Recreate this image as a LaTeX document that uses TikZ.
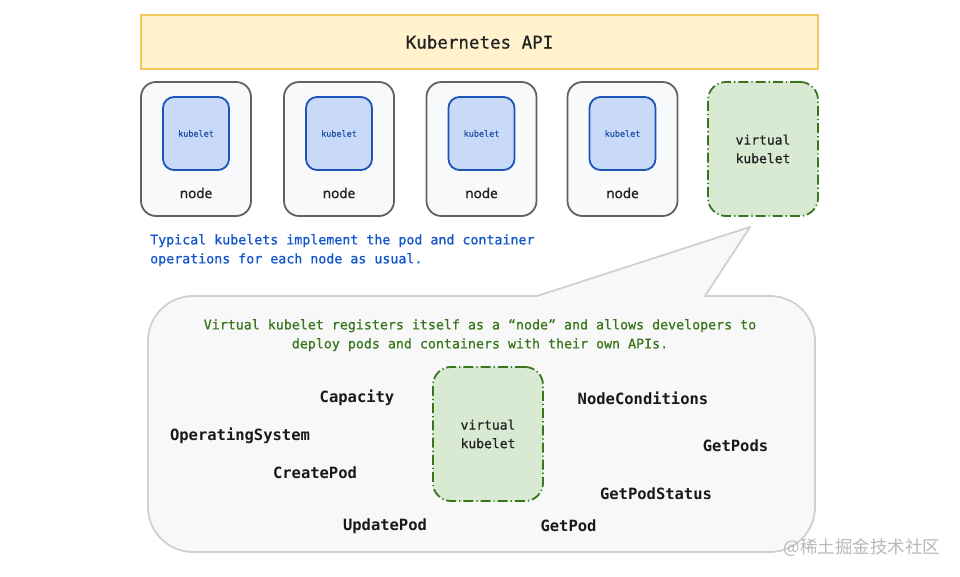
\documentclass[tikz,border=0pt]{standalone}
\usepackage{fontspec}
\newfontfamily\mono[FakeBold=0.7]{DejaVu Sans Mono}
\newfontfamily\monob{DejaVu Sans Mono Bold}
\newfontfamily\sansn[FakeBold=0.8]{Noto Sans}
\newfontfamily\cjk{Noto Sans CJK SC}
\definecolor{apifill}{HTML}{FFF2CC}
\definecolor{apidraw}{HTML}{F1C95A}
\definecolor{nodefill}{HTML}{F8F9FA}
\definecolor{nodedraw}{HTML}{616161}
\definecolor{kubfill}{HTML}{C9DAF8}
\definecolor{kubdraw}{HTML}{1C54B8}
\definecolor{kubtext}{HTML}{1C4FA8}
\definecolor{vfill}{HTML}{D9EAD3}
\definecolor{vdraw}{HTML}{38761D}
\definecolor{bluetext}{HTML}{1155CC}
\definecolor{greentext}{HTML}{38761D}
\definecolor{bubfill}{HTML}{F8F8F8}
\definecolor{bubdraw}{HTML}{D0D0D0}
\definecolor{darktext}{HTML}{222222}
\tikzset{
  apibox/.style={draw=apidraw, fill=apifill, line width=2pt, minimum width=677pt, minimum height=54pt, inner sep=0pt},
  nodebox/.style={draw=nodedraw, fill=nodefill, line width=1.8pt, rounded corners=15pt, minimum width=110pt, minimum height=134pt, inner sep=0pt},
  kubbox/.style={draw=kubdraw, fill=kubfill, line width=1.8pt, rounded corners=11pt, minimum width=66pt, minimum height=73pt, inner sep=0pt, text=kubtext, font=\mono\fontsize{8.5}{10}\selectfont},
  vbox/.style={draw=vdraw, fill=vfill, line width=1.8pt, rounded corners=18pt, minimum width=110pt, minimum height=134pt, inner sep=0pt, dash pattern=on 10pt off 3pt on 1.2pt off 3pt, text=darktext, align=center, font=\mono\fontsize{13}{18.5}\selectfont},
  nodelabel/.style={text=darktext, font=\sansn\fontsize{13.5}{16}\selectfont, inner sep=0pt},
  apilabel/.style={text=black!90, font=\monob\fontsize{15.5}{18}\selectfont, inner sep=0pt},
  note/.style={font=\mono\fontsize{13.3}{19}\selectfont, inner sep=0pt},
  bubble/.style={draw=bubdraw, fill=bubfill, line width=1.8pt, line join=round}
}
\begin{document}
\begin{tikzpicture}[x=1pt,y=1pt]
\useasboundingbox (0,0) rectangle (960,-577);
\fill[white] (0,0) rectangle (960,-577);
% Kubernetes API
\node[apibox] (api) at (479.5,-42) {};
\node[text=darktext, font=\mono\fontsize{17.5}{20}\selectfont] (apitext) at (api.center) {Kubernetes API};
% nodes
\foreach \i/\x in {1/196,2/339,3/481.5,4/622.5}{
  \node[nodebox] (n\i) at (\x,-149) {};
  \node[kubbox] (k\i) at (\x,-133.5) {kubelet};
  \node[nodelabel] (nl\i) at (\x,-193) {node};
}
\node[vbox] (vtop) at (763,-149) {virtual\\kubelet};
% bubble
\coordinate (tailL) at (537,-296);
\coordinate (tailTip) at (750,-227);
\coordinate (tailR) at (705,-296);
\draw[bubble] (tailL) -- (tailTip) -- (tailR) -- (770,-296)
  arc[start angle=90,end angle=0,radius=45pt] -- (815,-507)
  arc[start angle=0,end angle=-90,radius=45pt] -- (193,-552)
  arc[start angle=270,end angle=180,radius=45pt] -- (148,-341)
  arc[start angle=180,end angle=90,radius=45pt] -- cycle;
% notes
\node[note, text=bluetext, anchor=north west, align=left] (typical) at (150,-234) {Typical kubelets implement the pod and container\\operations for each node as usual.};
\node[note, text=greentext, anchor=north, align=center] (virtnote) at (480,-319) {Virtual kubelet registers itself as a “node” and allows developers to\\deploy pods and containers with their own APIs.};
% inner virtual kubelet
\node[vbox] (vin) at (488,-434) {virtual\\kubelet};
% api labels
\node[apilabel] (cap) at (357,-398) {Capacity};
\node[apilabel] (os) at (240,-436) {OperatingSystem};
\node[apilabel] (create) at (315,-473) {CreatePod};
\node[apilabel] (update) at (385,-526) {UpdatePod};
\node[apilabel] (nodecond) at (643,-398) {NodeConditions};
\node[apilabel] (getpods) at (735.5,-446) {GetPods};
\node[apilabel] (getstatus) at (656,-494) {GetPodStatus};
\node[apilabel] (getpod) at (568.5,-526) {GetPod};
% watermark
\node[text=black!28, font=\cjk\fontsize{17.5}{20}\selectfont, inner sep=0pt] (wm) at (862,-548) {@稀土掘金技术社区};
\end{tikzpicture}
\end{document}
